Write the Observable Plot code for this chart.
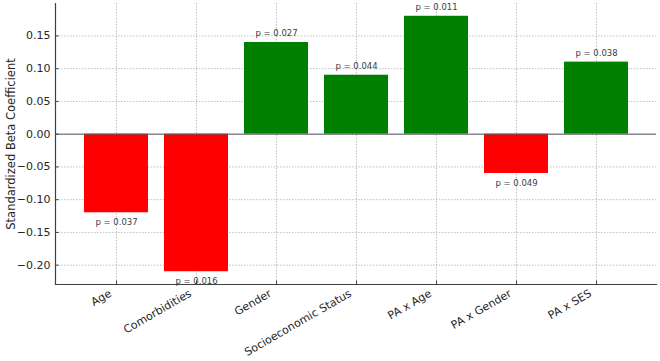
<!DOCTYPE html>
<html>
<head>
<meta charset="utf-8">
<script src="https://cdn.jsdelivr.net/npm/d3@7"></script>
<script src="https://cdn.jsdelivr.net/npm/@observablehq/plot@0.6"></script>
<style>
  html, body { margin: 0; padding: 0; background: #fff; }
  #chart svg { display: block; font-family: "DejaVu Sans", sans-serif; }
  #chart g[aria-label="y-axis label"] text { font-size: 11.5px; }
</style>
</head>
<body>
<div id="chart"></div>
<script>
// Predictors in the regression model
const categories = ["Age", "Comorbidities", "Gender", "Socioeconomic Status", "PA x Age", "PA x Gender", "PA x SES"];
// Standardized beta coefficients
const betas = [-0.12, -0.21, 0.14, 0.09, 0.18, -0.06, 0.11];
// Significance of each coefficient
const pValues = [0.037, 0.016, 0.027, 0.044, 0.011, 0.049, 0.038];
// Y axis ticks
const yTicks = [-0.20, -0.15, -0.10, -0.05, 0.00, 0.05, 0.10, 0.15];

const rows = categories.map((name, i) => ({name, beta: betas[i], p: pValues[i]}));
const labelOffset = 0.01;
const pLabel = d => `p = ${d.p.toFixed(3)}`;
const axisColor = "#404040";

const chart = Plot.plot({
  width: 660,
  height: 361,
  marginLeft: 55,
  marginRight: 4,
  marginTop: 3,
  marginBottom: 77,
  style: {fontFamily: "DejaVu Sans, sans-serif", fontSize: "11px", color: "#262626", background: "#fff"},
  x: {domain: categories, paddingInner: 0.2, paddingOuter: 0.34, label: null},
  y: {domain: [-0.2295, 0.1995], label: null},
  marks: [
    Plot.gridY(yTicks, {stroke: "#b0b0b0", strokeOpacity: 1, strokeDasharray: "1.5,1.5", strokeWidth: 0.8}),
    Plot.gridX({stroke: "#b0b0b0", strokeOpacity: 1, strokeDasharray: "1.5,1.5", strokeWidth: 0.8}),
    Plot.barY(rows, {x: "name", y: "beta", fill: d => d.beta < 0 ? "#ff0000" : "#008000"}),
    Plot.ruleY([0], {stroke: "#5a5a5a", strokeWidth: 1}),
    // p-value labels: above positive bars, below negative bars
    Plot.text(rows.filter(d => d.beta >= 0), {
      x: "name", y: d => d.beta + labelOffset, text: pLabel,
      lineAnchor: "bottom", fill: "#404040", fontSize: 8.5
    }),
    Plot.text(rows.filter(d => d.beta < 0), {
      x: "name", y: d => d.beta - labelOffset, text: pLabel,
      lineAnchor: "top", fill: "#404040", fontSize: 8.5
    }),
    Plot.frame({anchor: "left", stroke: axisColor, strokeWidth: 1.2}),
    Plot.frame({anchor: "bottom", stroke: axisColor, strokeWidth: 1.2}),
    // inward tick marks
    Plot.axisY(yTicks, {tickSize: -3.5, tickFormat: () => "", stroke: axisColor, label: null}),
    Plot.axisX({tickSize: -3.5, tickFormat: () => "", stroke: axisColor, label: null}),
    Plot.axisY(yTicks, {
      tickFormat: d3.format(".2f"),
      tickSize: 0,
      tickPadding: 5,
      fontSize: 11,
      label: "Standardized Beta Coefficient",
      labelAnchor: "center",
      labelArrow: "none",
      labelOffset: 49
    }),
    Plot.axisX({tickRotate: -30, tickSize: 0, tickPadding: 6, fontSize: 11, dx: -6, dy: 2})
  ]
});

document.getElementById("chart").appendChild(chart);
</script>
</body>
</html>
